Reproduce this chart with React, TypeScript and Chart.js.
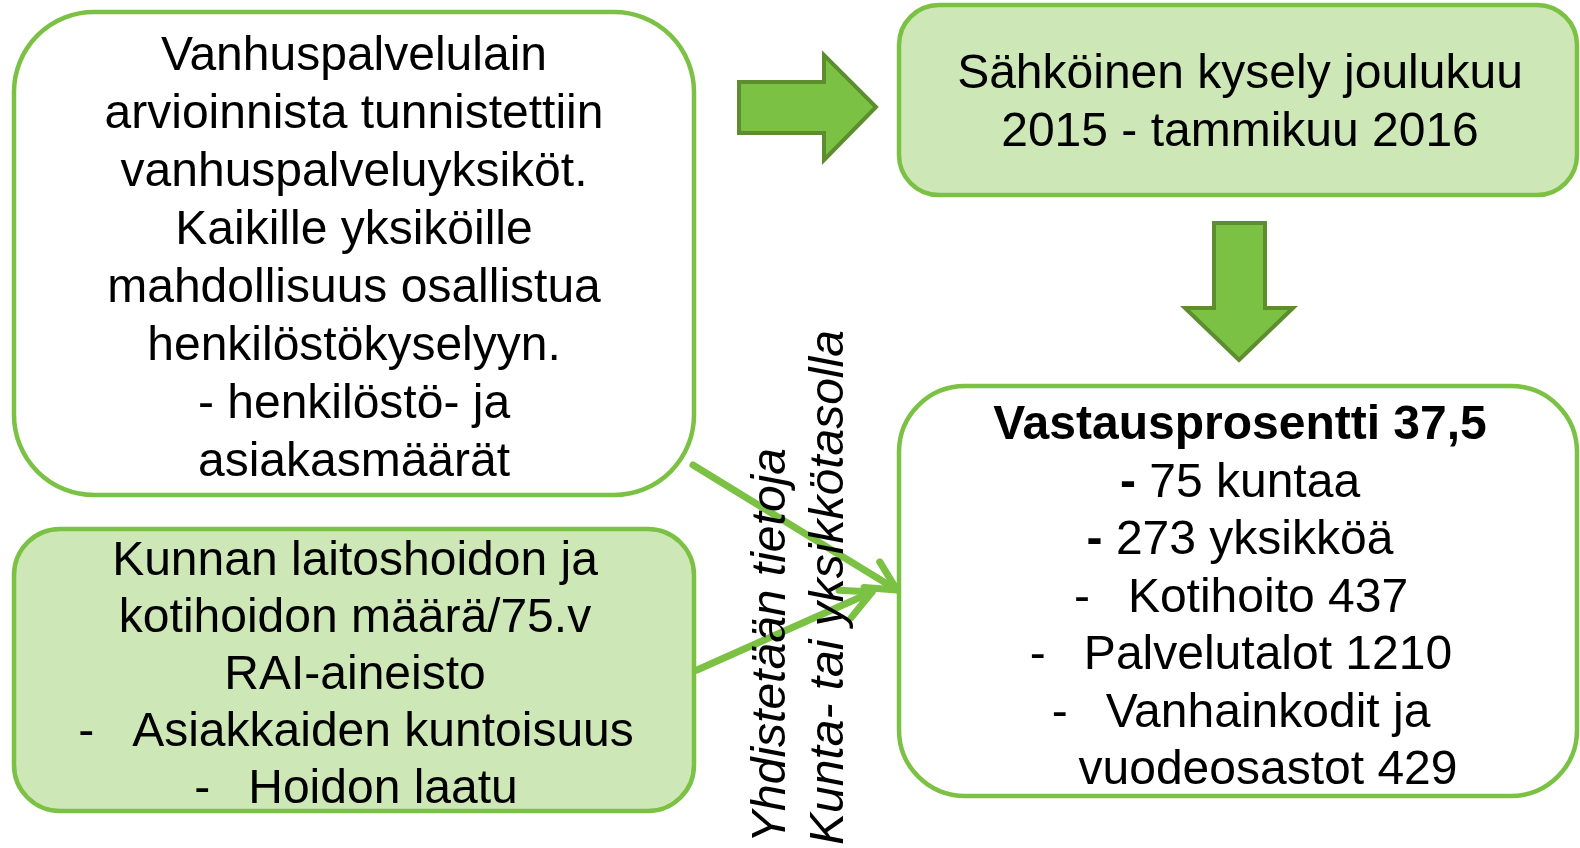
import React, { useEffect, useRef } from "react";
import { Chart, registerables } from "chart.js";

Chart.register(...registerables);

// ---------- content (text) ----------
const box1Lines = [
  "Vanhuspalvelulain",
  "arvioinnista tunnistettiin",
  "vanhuspalveluyksiköt.",
  "Kaikille yksiköille",
  "mahdollisuus osallistua",
  "henkilöstökyselyyn.",
  "- henkilöstö- ja",
  "asiakasmäärät",
];
const box2Lines = ["Kunnan laitoshoidon ja", "kotihoidon määrä/75.v", "RAI-aineisto"];
const box2Bullets = ["Asiakkaiden kuntoisuus", "Hoidon laatu"];
const box3Lines = ["Sähköinen kysely joulukuu", "2015 - tammikuu 2016"];
const box4Title = "Vastausprosentti 37,5";
const box4Counts = ["75 kuntaa", "273 yksikköä"];
const box4Bullets = ["Kotihoito 437", "Palvelutalot 1210", "Vanhainkodit ja"];
const box4Continuation = ["vuodeosastot 429"];
const sideLabels = ["Yhdistetään tietoja", "Kunta- tai yksikkötasolla"];

// ---------- layout & style ----------
const W = 1580;
const H = 848;
const FONT = '"Liberation Sans", Arial, Helvetica, sans-serif';
const FS = 48;
const GREEN = "#7BC143";
const DARK_GREEN = "#5C8E30";
const LIGHT = "#CDE7B6";

const BOXES = [
  { x0: 14, y0: 12, x1: 694, y1: 495, r: 80, fill: "#FFFFFF" },
  { x0: 14, y0: 529, x1: 694, y1: 811, r: 46, fill: LIGHT },
  { x0: 899, y0: 5, x1: 1577, y1: 195, r: 40, fill: LIGHT },
  { x0: 899, y0: 386, x1: 1577, y1: 796, r: 66, fill: "#FFFFFF" },
];

const BLOCK_ARROWS = [
  [
    [739, 82], [824, 82], [824, 55], [876, 107], [824, 160], [824, 133], [739, 133],
  ],
  [
    [1214, 223], [1265, 223], [1265, 308], [1293, 308], [1239, 360], [1185, 308], [1214, 308],
  ],
];

const CONNECTORS = [
  { from: [693, 465], to: [897, 590] },
  { from: [697, 670], to: [872, 592] },
];

const HEAD_LEN = 33;
const HEAD_ANGLE = (27 * Math.PI) / 180;

const diagramPlugin = {
  id: "diagram",
  beforeDatasetsDraw(chart: any) {
    const ctx: CanvasRenderingContext2D = chart.ctx;
    const X = (v: number) => chart.scales.x.getPixelForValue(v);
    const Y = (v: number) => chart.scales.y.getPixelForValue(v);
    ctx.save();
    ctx.fillStyle = "#FFFFFF";
    ctx.fillRect(0, 0, chart.width, chart.height);
    // boxes
    BOXES.forEach((b) => {
      const x0 = X(b.x0), x1 = X(b.x1), y0 = Y(b.y0), y1 = Y(b.y1);
      const r = b.r;
      ctx.beginPath();
      ctx.moveTo(x0 + r, y0);
      ctx.lineTo(x1 - r, y0);
      ctx.arcTo(x1, y0, x1, y0 + r, r);
      ctx.lineTo(x1, y1 - r);
      ctx.arcTo(x1, y1, x1 - r, y1, r);
      ctx.lineTo(x0 + r, y1);
      ctx.arcTo(x0, y1, x0, y1 - r, r);
      ctx.lineTo(x0, y0 + r);
      ctx.arcTo(x0, y0, x0 + r, y0, r);
      ctx.closePath();
      ctx.fillStyle = b.fill;
      ctx.fill();
      ctx.lineWidth = 4.5;
      ctx.strokeStyle = GREEN;
      ctx.stroke();
    });
    // block arrows
    BLOCK_ARROWS.forEach((pts) => {
      ctx.beginPath();
      pts.forEach(([px, py], i) => {
        if (i === 0) ctx.moveTo(X(px), Y(py));
        else ctx.lineTo(X(px), Y(py));
      });
      ctx.closePath();
      ctx.fillStyle = GREEN;
      ctx.fill();
      ctx.lineWidth = 4;
      ctx.lineJoin = "miter";
      ctx.strokeStyle = DARK_GREEN;
      ctx.stroke();
    });
    ctx.restore();
  },
  afterDatasetsDraw(chart: any) {
    const ctx: CanvasRenderingContext2D = chart.ctx;
    const X = (v: number) => chart.scales.x.getPixelForValue(v);
    const Y = (v: number) => chart.scales.y.getPixelForValue(v);
    ctx.save();
    // arrowheads
    ctx.strokeStyle = GREEN;
    ctx.lineWidth = 7;
    ctx.lineCap = "round";
    ctx.lineJoin = "round";
    CONNECTORS.forEach((c) => {
      const fx = X(c.from[0]), fy = Y(c.from[1]);
      const tx = X(c.to[0]), ty = Y(c.to[1]);
      const back = Math.atan2(fy - ty, fx - tx);
      ctx.beginPath();
      ctx.moveTo(tx + HEAD_LEN * Math.cos(back + HEAD_ANGLE), ty + HEAD_LEN * Math.sin(back + HEAD_ANGLE));
      ctx.lineTo(tx, ty);
      ctx.lineTo(tx + HEAD_LEN * Math.cos(back - HEAD_ANGLE), ty + HEAD_LEN * Math.sin(back - HEAD_ANGLE));
      ctx.stroke();
    });

    ctx.fillStyle = "#000000";
    ctx.textBaseline = "alphabetic";
    const regular = `${FS}px ${FONT}`;
    const bold = `bold ${FS}px ${FONT}`;
    const italic = `italic ${FS}px ${FONT}`;

    const center = (text: string, cx: number, by: number, font = regular) => {
      ctx.font = font;
      ctx.textAlign = "center";
      ctx.fillText(text, X(cx), Y(by));
    };
    const TAB = 54;
    const bullet = (text: string, cx: number, by: number, withDash: boolean) => {
      ctx.font = regular;
      ctx.textAlign = "left";
      const w = ctx.measureText(text).width;
      const start = X(cx) - (TAB + w) / 2;
      if (withDash) ctx.fillText("-", start, Y(by));
      ctx.fillText(text, start + TAB, Y(by));
    };
    const boldDash = (text: string, cx: number, by: number) => {
      ctx.textAlign = "left";
      ctx.font = bold;
      const wd = ctx.measureText("-").width;
      ctx.font = regular;
      const wt = ctx.measureText(" " + text).width;
      const start = X(cx) - (wd + wt) / 2;
      ctx.font = bold;
      ctx.fillText("-", start, Y(by));
      ctx.font = regular;
      ctx.fillText(" " + text, start + wd, Y(by));
    };

    // box 1
    box1Lines.forEach((t, i) => center(t, 354, 70 + 58 * i));
    // box 2
    box2Lines.forEach((t, i) => center(t, 355, 575 + 57 * i));
    box2Bullets.forEach((t, i) => bullet(t, 356, 575 + 57 * (box2Lines.length + i), true));
    // box 3
    box3Lines.forEach((t, i) => center(t, 1240, 88 + 58 * i));
    // box 4
    const b4 = (i: number) => 439 + 57.5 * i;
    center(box4Title, 1240, b4(0), bold);
    box4Counts.forEach((t, i) => boldDash(t, 1240, b4(1 + i)));
    box4Bullets.forEach((t, i) => bullet(t, 1241, b4(3 + i), true));
    box4Continuation.forEach((t, i) => bullet(t, 1241, b4(6 + i), false));

    // vertical side labels
    ctx.font = italic;
    ctx.textAlign = "left";
    const sideX = [785, 843];
    const sideY = [843, 845];
    sideLabels.forEach((t, i) => {
      ctx.save();
      ctx.translate(X(sideX[i]), Y(sideY[i]));
      ctx.rotate(-Math.PI / 2);
      ctx.fillText(t, 0, 0);
      ctx.restore();
    });
    ctx.restore();
  },
};

export default function App() {
  const canvasRef = useRef<HTMLCanvasElement | null>(null);

  useEffect(() => {
    const canvas = canvasRef.current;
    if (!canvas) return;
    const chart = new Chart(canvas, {
      type: "scatter",
      data: {
        datasets: CONNECTORS.map((c) => ({
          data: [
            { x: c.from[0], y: c.from[1] },
            { x: c.to[0], y: c.to[1] },
          ],
          showLine: true,
          borderColor: GREEN,
          borderWidth: 7,
          borderCapStyle: "round",
          pointRadius: 0,
          clip: false,
        })),
      } as any,
      options: {
        responsive: false,
        animation: false,
        events: [],
        devicePixelRatio: 1,
        layout: { padding: 0 },
        scales: {
          x: { type: "linear", min: 0, max: W, display: false },
          y: { type: "linear", min: 0, max: H, reverse: true, display: false },
        },
        plugins: {
          legend: { display: false },
          tooltip: { enabled: false },
        },
      } as any,
      plugins: [diagramPlugin],
    });
    return () => chart.destroy();
  }, []);

  return (
    <div style={{ position: "fixed", left: 0, top: 0, width: W, height: H, background: "#fff" }}>
      <canvas ref={canvasRef} width={W} height={H} style={{ display: "block", width: W, height: H }} />
    </div>
  );
}
